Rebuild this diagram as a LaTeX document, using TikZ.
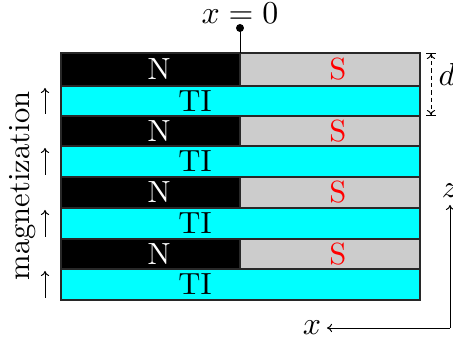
\documentclass[tikz,border=0pt]{standalone}
\usetikzlibrary{arrows.meta}
\definecolor{tiCyan}{RGB}{0,255,255}
\definecolor{sGray}{RGB}{204,204,204}
\definecolor{edge}{RGB}{40,40,40}
\begin{document}
\begin{tikzpicture}[x=0.3125bp,y=-0.3125bp,
  every node/.style={font=\fontsize{9.6}{11}\selectfont},
  layer/.style={draw=edge,line width=0.35pt},
  nlab/.style={text=white,inner sep=0pt},
  slab/.style={text=red,inner sep=0pt},
  tilab/.style={text=black,inner sep=0pt},
  thinline/.style={line width=0.3pt},
  magarrow/.style={-{To[length=1.6pt,width=2.6pt]},thinline}]
\useasboundingbox (0,0) rectangle (453,339);
% layers: NS then TI
\foreach \i/\a/\b/\c in {1/53/86/116, 2/116/146/177, 3/177/208/239, 4/239/269/300}{
  \draw[layer,fill=black] (61,\a) rectangle (240,\b);
  \draw[layer,fill=sGray] (240,\a) rectangle (420,\b);
  \draw[layer,fill=tiCyan] (61,\b) rectangle (420,\c);
  \node[nlab] (N\i) at (159,{(\a+\b)/2}) {N};
  \node[slab] (S\i) at (338,{(\a+\b)/2}) {S};
  \node[tilab] (TI\i) at (195,{(\b+\c)/2}) {TI};
  \coordinate (mb\i) at (45,{\c-2});
  \coordinate (mt\i) at (45,{\b+2});
  \draw[magarrow] (mb\i) -- (mt\i);
}
% magnetization label
\node[rotate=90,inner sep=0pt] (mag) at (23,186) {magnetization};
% x = 0 marker
\coordinate (top0) at (240,53);
\fill (240,28) circle (4) coordinate (dot);
\draw[thinline] (dot) -- (top0);
\node[anchor=base,inner sep=0pt] (x0) at (240,24) {$x=0$};
% d dimension
\coordinate (dtop) at (431,53);
\coordinate (dbot) at (431,116);
\draw[dash pattern=on 1.3pt off 1pt,thinline,{Bar[width=3pt]To[length=1.6pt,width=2.6pt]}-{To[length=1.6pt,width=2.6pt]Bar[width=3pt]}] (dtop) -- (dbot);
\node[inner sep=0pt] (dlab) at (447,74) {$d$};
% axes
\coordinate (orig) at (450,328);
\coordinate (zend) at (450,205);
\coordinate (xend) at (327,328);
\draw[magarrow] (orig) -- (zend);
\draw[magarrow] (orig) -- (xend);
\node[inner sep=0pt] (zlab) at (450,191) {$z$};
\node[inner sep=0pt] (xlab) at (312,328) {$x$};
\end{tikzpicture}
\end{document}
